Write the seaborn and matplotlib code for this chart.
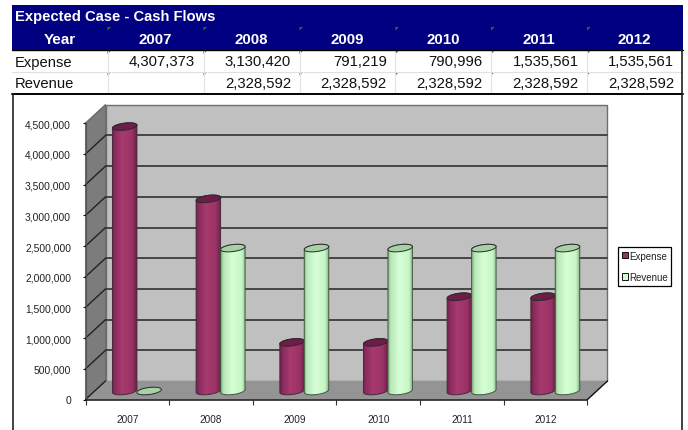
import numpy as np
import pandas as pd
import matplotlib
matplotlib.use("Agg")
import matplotlib.pyplot as plt
import seaborn as sns
from matplotlib.colors import LinearSegmentedColormap
from matplotlib.patches import Polygon, Rectangle
from matplotlib.path import Path
from matplotlib.transforms import IdentityTransform

years = ["2007", "2008", "2009", "2010", "2011", "2012"]
expense = [4307373, 3130420, 791219, 790996, 1535561, 1535561]
revenue = [0, 2328592, 2328592, 2328592, 2328592, 2328592]
y_ticks = list(range(0, 5000000, 500000))
series_names = ["Expense", "Revenue"]
table_title = "Expected Case - Cash Flows"

W, H = 688, 431
ARIAL = ["Liberation Sans", "DejaVu Sans"]

sns.set_style("white")
plt.rcParams["font.family"] = ARIAL

fig = plt.figure(figsize=(W / 100, H / 100), dpi=100, facecolor="white")

# ---- header table, laid out in pixel coordinates -------------------------
tbl = fig.add_axes([0, 0, 1, 1], zorder=0)
tbl.set_xlim(0, W)
tbl.set_ylim(H, 0)
tbl.axis("off")

col_edges = [107.5, 203.5, 299.5, 395.3, 491, 587, 682.5]
tbl.add_patch(Rectangle((12, 5.5), 671, 45.5, fc="#000080", ec="none"))
tbl.plot([12, 682], [72.5, 72.5], color="#e0e0e0", lw=0.8)
for xx in col_edges[:-1]:
    tbl.plot([xx, xx], [51, 94], color="#e4e4e4", lw=0.8)
tbl.plot([12, 683], [51, 51], color="black", lw=1.0)
tbl.plot([12, 683], [94.5, 94.5], color="black", lw=1.4)
tbl.plot([13, 13], [94.5, H], color="#222222", lw=1.2)
tbl.plot([682, 682], [51, H], color="#222222", lw=1.2)

tbl.text(15, 17, table_title, color="white", fontsize=10.6, fontweight="bold",
         va="center", ha="left")
tbl.text(59.5, 39.5, "Year", color="white", fontsize=11, fontweight="bold",
         va="center", ha="center")
tbl.text(15, 62.5, series_names[0], color="#111111", fontsize=10.6, va="center")
tbl.text(15, 84, series_names[1], color="#111111", fontsize=10.6, va="center")

for i, yr in enumerate(years):
    left, right = col_edges[i], col_edges[i + 1]
    tbl.text((left + right) / 2, 39.5, yr, color="white", fontsize=10.8,
             fontweight="bold", va="center", ha="center")
    tbl.text(right - 8.5, 62.5, f"{expense[i]:,}", color="#111111", fontsize=10.7,
             va="center", ha="right")
    if revenue[i]:
        tbl.text(right - 8.5, 84, f"{revenue[i]:,}", color="#111111", fontsize=10.7,
                 va="center", ha="right")
    # error-indicator flags in the cell corners
    for top in (28, 51.5, 73):
        tbl.add_patch(Polygon([(left, top), (left + 3.6, top), (left, top + 3.6)],
                              fc="#1c7a1c", ec="none"))

# ---- chart axes: the front plane of the 3-D box ---------------------------
ax_left, ax_right, ax_top, ax_bottom = 85.5, 587.5, 124.3, 400.5
ax = fig.add_axes([ax_left / W, 1 - ax_bottom / H,
                   (ax_right - ax_left) / W, (ax_bottom - ax_top) / H], zorder=1)
ax.patch.set_visible(False)

frame = pd.DataFrame({
    "year": years * 2,
    "value": expense + revenue,
    "series": [series_names[0]] * 6 + [series_names[1]] * 6,
})
palette = {"Expense": "#993366", "Revenue": "#CCFFCC"}
sns.barplot(data=frame, x="year", y="value", hue="series", palette=palette,
            width=0.585, dodge=True, gap=0, ax=ax, saturation=1, errorbar=None)

XLIM = (-0.5, 5.5)
YLIM = (0, 4500000)
ax.set_xlim(*XLIM)
ax.set_ylim(*YLIM)
ax.set_xlabel("")
ax.set_ylabel("")


def depth_px(x, y, frac):
    """Pixel position of a data point pushed back into the box by frac."""
    px, py = ax.transData.transform((x, y))
    return px + 20.0 * frac, py + 18.5 * frac


identity = IdentityTransform()


def poly(points, **kw):
    patch = Polygon(points, transform=identity, clip_on=False, **kw)
    ax.add_patch(patch)
    return patch


# walls and floor
x0, x1 = XLIM
ymax = YLIM[1]
poly([depth_px(x0, 0, 1), depth_px(x1, 0, 1), depth_px(x1, ymax, 1), depth_px(x0, ymax, 1)],
     fc="#C0C0C0", ec="#6e6e6e", lw=1.0, zorder=0.2)
poly([depth_px(x0, 0, 0), depth_px(x0, 0, 1), depth_px(x0, ymax, 1), depth_px(x0, ymax, 0)],
     fc="#7c7c7c", ec="#6e6e6e", lw=0.8, zorder=0.25)
poly([depth_px(x0, 0, 0), depth_px(x1, 0, 0), depth_px(x1, 0, 1), depth_px(x0, 0, 1)],
     fc="#949494", ec="none", zorder=0.3)

# gridlines across the back wall and down the side wall
for v in y_ticks:
    back_l, back_r, front = depth_px(x0, v, 1), depth_px(x1, v, 1), depth_px(x0, v, 0)
    if 0 < v < ymax:
        ax.plot([back_l[0], back_r[0]], [back_l[1], back_r[1]], transform=identity,
                color="#3c3c3c", lw=1.3, clip_on=False, zorder=0.4)
    color = "#222222" if v < ymax else "#6e6e6e"
    ax.plot([front[0], back_l[0]], [front[1], back_l[1]], transform=identity,
            color=color, lw=1.0, clip_on=False, zorder=0.4)

# front-right edge of the floor
fr0, fr1 = depth_px(x1, 0, 0), depth_px(x1, 0, 1)
ax.plot([fr0[0], fr1[0]], [fr0[1], fr1[1]], transform=identity, color="#111111",
        lw=1.0, clip_on=False, zorder=0.6)

# ---- cylinders built on the seaborn bars ---------------------------------
gradients = {
    "Expense": LinearSegmentedColormap.from_list(
        "exp", [(0, "#6e2049"), (0.1, "#8a2b5e"), (0.4, "#a83a6e"),
                (0.8, "#9a3366"), (1, "#6e2049")]),
    "Revenue": LinearSegmentedColormap.from_list(
        "rev", [(0, "#86b086"), (0.1, "#b8e8b8"), (0.45, "#d6ffd6"),
                (0.85, "#c6f6c6"), (1, "#86b086")]),
}
cap_colors = {"Expense": "#6e1c48", "Revenue": "#a6d2a6"}
edge_colors = {"Expense": "#4a2a3a", "Revenue": "#3f5a3f"}
shift_x, shift_y = 9.6, 8.5
semi_minor, tilt = 3.5, 0.12
ramp = np.linspace(0, 1, 64).reshape(1, -1)


def ellipse_xy(cx, cy, a, t):
    return cx + a * np.cos(t), cy + semi_minor * np.sin(t) + tilt * a * np.cos(t)


z = 3.0
for name, container in zip(series_names, ax.containers):
    for bar in container:
        bar.set_visible(False)
        xa, _ = ax.transData.transform((bar.get_x(), 0))
        xb, yb = ax.transData.transform((bar.get_x() + bar.get_width(), 0))
        _, yt = ax.transData.transform((bar.get_x(), bar.get_height()))
        xa, xb, yb, yt = xa + shift_x, xb + shift_x, yb + shift_y, yt + shift_y
        cx, a = (xa + xb) / 2, (xb - xa) / 2

        if bar.get_height() > 0:
            low = np.linspace(np.pi, 2 * np.pi, 40)
            high = np.linspace(0, np.pi, 40)
            bx, by = ellipse_xy(cx, yb, a, low)
            tx, ty = ellipse_xy(cx, yt, a, high)
            outline = np.column_stack([np.r_[bx, tx], np.r_[by, ty]])
            body = Polygon(outline, transform=identity, fc="none", ec=edge_colors[name],
                           lw=0.7, clip_on=False, zorder=z + 0.2)
            ax.add_patch(body)
            img = ax.imshow(ramp, cmap=gradients[name], aspect="auto", vmin=0, vmax=1,
                            extent=(xa, xb, yb - 6, yt + 6), transform=identity,
                            zorder=z, interpolation="bilinear")
            img.set_clip_path(Path(outline), identity)

        t = np.linspace(0, 2 * np.pi, 80)
        cap_x, cap_y = ellipse_xy(cx, yt, a, t)
        poly(np.column_stack([cap_x, cap_y]), fc=cap_colors[name], ec="#2a2a2a",
             lw=0.7, zorder=z + 0.3)
        z += 1

ax.set_xlim(*XLIM)
ax.set_ylim(*YLIM)

# ---- axes furniture -------------------------------------------------------
for side in ("top", "right"):
    ax.spines[side].set_visible(False)
ax.spines["left"].set_color("#555555")
ax.spines["left"].set_linewidth(0.8)
ax.spines["bottom"].set_color("#111111")
ax.spines["bottom"].set_linewidth(1.1)
ax.spines["left"].set_zorder(0.7)
ax.spines["bottom"].set_zorder(0.7)

ax.set_yticks(y_ticks)
ax.set_yticklabels([f"{v:,}" for v in y_ticks], fontsize=7.4, color="#222222")
ax.tick_params(axis="y", length=2.2, width=0.8, color="#111111", pad=8.2, left=True)
ax.set_xticks(range(len(years)))
ax.set_xticklabels(years, fontsize=7.2, color="#222222")
ax.tick_params(axis="x", which="major", length=0, pad=10.5)
ax.set_xticks(np.arange(-0.5, 6.0, 1.0), minor=True)
ax.tick_params(axis="x", which="minor", length=3.4, width=0.8, color="#333333", bottom=True)

# ---- legend ---------------------------------------------------------------
handles, labels = ax.get_legend_handles_labels()
if ax.get_legend() is not None:
    ax.get_legend().remove()
legend = fig.legend(handles, labels, loc="upper left",
                    bbox_to_anchor=(618 / W, 1 - 248 / H), bbox_transform=fig.transFigure,
                    frameon=True, fancybox=False, edgecolor="black", framealpha=1,
                    prop={"size": 7.0}, labelcolor="#222222",
                    handlelength=0.6, handleheight=0.6, handletextpad=0.15,
                    labelspacing=1.15, borderpad=0.38, borderaxespad=0)
legend.get_frame().set_linewidth(0.9)
for h in legend.legend_handles:
    h.set_edgecolor("#111111")
    h.set_linewidth(0.7)

fig.savefig("out.png", dpi=100, facecolor="white")
